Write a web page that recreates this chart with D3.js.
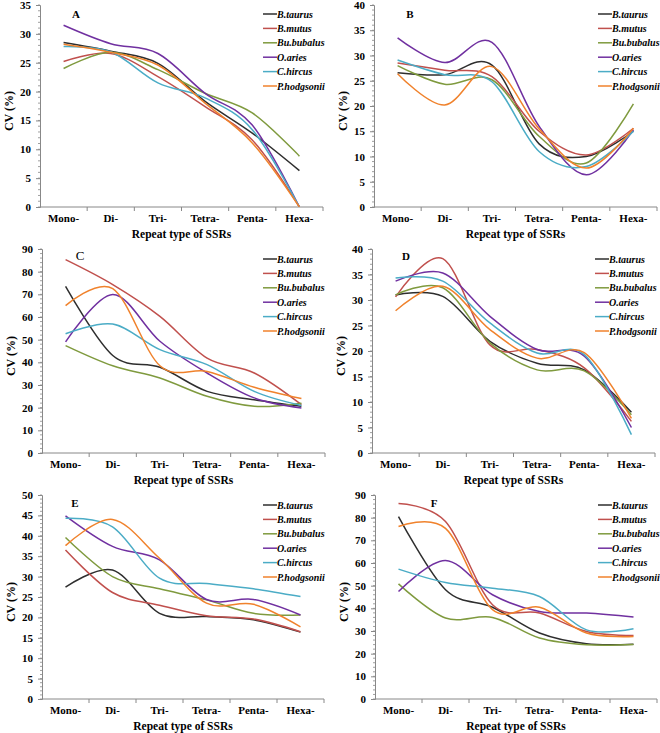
<!DOCTYPE html>
<html><head><meta charset="utf-8">
<script src="https://cdn.jsdelivr.net/npm/d3@7"></script>
<style>
body{margin:0;background:#fff;}
svg{display:block;}
</style></head>
<body>
<svg id="chart" width="660" height="733"></svg>
<script>
const categories = ["Mono-","Di-","Tri-","Tetra-","Penta-","Hexa-"];
const species = ["B.taurus","B.mutus","Bu.bubalus","O.aries","C.hircus","P.hodgsonii"];
const colors = ["#2e2e2e","#c0504d","#7f9a3e","#7030a0","#4bacc6","#f0822c"];

// values per panel, one row per species (same order as species)
const dataA = [
  [28.5,27.0,24.9,18.3,12.8,6.3],
  [25.2,26.6,22.6,17.4,11.6,0],
  [24.0,26.8,23.8,19.7,16.3,8.8],
  [31.5,28.3,26.6,19.7,14.2,0],
  [27.8,26.9,21.5,18.9,13.4,0],
  [28.2,26.8,24.6,18.0,11.1,0]
];
const dataB = [
  [26.6,26.2,28.1,12.5,10.0,15.0],
  [28.5,27.1,25.8,15.0,10.3,15.6],
  [28.0,24.3,25.2,14.0,8.7,20.4],
  [33.5,28.6,32.6,16.0,6.4,15.3],
  [29.1,26.2,24.8,11.0,8.0,15.0],
  [26.4,20.2,27.8,15.5,7.7,15.6]
];
const dataC = [
  [73.5,43.0,37.8,27.2,23.5,20.6],
  [85.3,74.3,60.3,41.9,35.3,21.3],
  [47.4,38.5,33.1,25.0,20.6,22.0],
  [49.0,69.9,49.3,35.3,24.3,19.9],
  [52.6,56.9,45.6,39.0,27.2,21.0],
  [65.0,72.5,38.5,36.0,29.0,24.0]
];
const dataD = [
  [31.0,30.7,21.9,17.6,16.3,8.0],
  [30.6,38.1,21.2,20.3,16.7,6.2],
  [31.0,32.4,21.6,16.3,16.1,7.5],
  [33.7,35.3,26.8,20.3,19.0,5.0],
  [34.3,33.7,25.5,19.6,19.3,3.6],
  [27.9,32.7,24.2,18.6,19.7,6.8]
];
const dataE = [
  [27.4,31.6,21.0,20.2,19.4,16.4],
  [36.5,26.1,23.0,20.4,19.6,16.5],
  [39.6,30.0,27.0,24.3,21.0,20.6],
  [44.9,37.4,34.1,24.4,24.4,20.6],
  [44.3,42.2,29.6,28.3,27.0,25.1],
  [37.6,44.0,34.5,23.5,23.2,17.7]
];
const dataF = [
  [80.5,48.2,40.5,29.1,24.4,24.2],
  [86.3,78.3,41.6,37.9,29.8,28.0],
  [50.8,35.7,36.0,26.9,23.9,24.0],
  [47.4,61.1,46.0,38.6,37.9,36.2],
  [57.3,51.4,48.9,45.2,30.5,31.0],
  [76.1,75.3,39.4,40.5,29.1,27.6]
];

const panels = [
  {label:"A", data:dataA, yMax:35, step:5, minor:1, x0:40,  x1:323, y0:207, y1:5,  lab:[76,14],  bold:true, leg:[263,14]},
  {label:"B", data:dataB, yMax:40, step:5, minor:1, x0:374, x1:657, y0:207, y1:5,  lab:[410,14], bold:true, leg:[598,14]},
  {label:"C", data:dataC, yMax:90, step:10, minor:2, x0:42, x1:325, y0:453, y1:249, lab:[80,256], bold:false, leg:[263,259]},
  {label:"D", data:dataD, yMax:40, step:5, minor:1, x0:372, x1:655, y0:453, y1:249, lab:[406,256], bold:true, leg:[595,259]},
  {label:"E", data:dataE, yMax:50, step:5, minor:1, x0:42, x1:324, y0:699, y1:495, lab:[75,503], bold:true, leg:[263,505]},
  {label:"F", data:dataF, yMax:90, step:10, minor:2, x0:375, x1:657, y0:699, y1:495, lab:[434,503], bold:true, leg:[598,505]}
];

const FONT = "'Liberation Serif','Times New Roman',serif";
const svg = d3.select("#chart");

panels.forEach(p => {
  const g = svg.append("g").attr("font-family", FONT);
  const x = d3.scaleBand().domain(categories).range([p.x0, p.x1]).paddingInner(0).paddingOuter(0);
  const y = d3.scaleLinear().domain([0, p.yMax]).range([p.y0, p.y1]);
  const cx = c => x(c) + x.bandwidth()/2;

  // minor ticks
  const minors = d3.range(0, p.yMax + 0.001, p.minor);
  g.selectAll(".minor").data(minors).enter().append("line")
    .attr("x1", p.x0 - 2).attr("x2", p.x0)
    .attr("y1", d => y(d)).attr("y2", d => y(d))
    .attr("stroke", "#888").attr("stroke-width", 0.8);

  // y axis
  const yAxis = d3.axisLeft(y).tickValues(d3.range(0, p.yMax + 0.001, p.step)).tickSize(4).tickPadding(5);
  const ya = g.append("g").attr("transform", `translate(${p.x0},0)`).call(yAxis)
    .attr("font-family", FONT);
  ya.select(".domain").attr("stroke", "#888");
  ya.selectAll(".tick line").attr("stroke", "#888");
  ya.selectAll("text").attr("font-family", FONT).attr("font-weight", "bold")
    .attr("font-size", 11).attr("fill", "#000");

  // x axis line and category-boundary ticks
  g.append("line").attr("x1", p.x0).attr("x2", p.x1).attr("y1", p.y0).attr("y2", p.y0)
    .attr("stroke", "#888").attr("stroke-width", 1);
  const bounds = categories.slice(1).map(c => x(c)).concat([p.x1]);
  g.selectAll(".xt").data(bounds).enter().append("line")
    .attr("x1", d => d).attr("x2", d => d).attr("y1", p.y0).attr("y2", p.y0 + 4)
    .attr("stroke", "#888");
  g.selectAll(".xl").data(categories).enter().append("text")
    .attr("x", d => cx(d)).attr("y", p.y0 + 15)
    .attr("text-anchor", "middle").attr("font-weight", "bold").attr("font-size", 11)
    .text(d => d);

  // axis titles
  g.append("text").attr("x", (p.x0 + p.x1)/2).attr("y", p.y0 + 31)
    .attr("text-anchor", "middle").attr("font-weight", "bold").attr("font-size", 11.5)
    .text("Repeat type of SSRs");
  const yc = (p.y0 + p.y1)/2 + 5;
  g.append("text").attr("transform", `translate(${p.x0 - 27},${yc}) rotate(-90)`)
    .attr("text-anchor", "middle").attr("font-weight", "bold").attr("font-size", 12)
    .text("CV (%)");

  // panel label
  g.append("text").attr("x", p.lab[0]).attr("y", p.lab[1] + 4)
    .attr("text-anchor", "middle").attr("font-size", p.bold ? 11 : 13)
    .attr("font-weight", p.bold ? "bold" : "normal").text(p.label);

  // lines
  const line = d3.line().x((d, i) => cx(categories[i])).y(d => y(d)).curve(d3.curveCardinal.tension(0));
  const clipId = "clip" + p.label;
  g.append("clipPath").attr("id", clipId).append("rect")
    .attr("x", p.x0).attr("y", p.y1 - 10).attr("width", p.x1 - p.x0 + 3).attr("height", p.y0 - p.y1 + 10);
  g.append("g").attr("clip-path", `url(#${clipId})`).selectAll("path").data(p.data).enter().append("path")
    .attr("d", d => line(d)).attr("fill", "none")
    .attr("stroke", (d, i) => colors[i]).attr("stroke-width", 1.5);

  // legend
  const lg = g.append("g").attr("transform", `translate(${p.leg[0]},${p.leg[1]})`);
  species.forEach((s, i) => {
    lg.append("line").attr("x1", 0).attr("x2", 14).attr("y1", i*14.4).attr("y2", i*14.4)
      .attr("stroke", colors[i]).attr("stroke-width", 1.5);
    lg.append("text").attr("x", 14).attr("y", i*14.4 + 3.5)
      .attr("font-weight", "bold").attr("font-style", "italic").attr("font-size", 10)
      .text(s);
  });
});
</script>
</body></html>
